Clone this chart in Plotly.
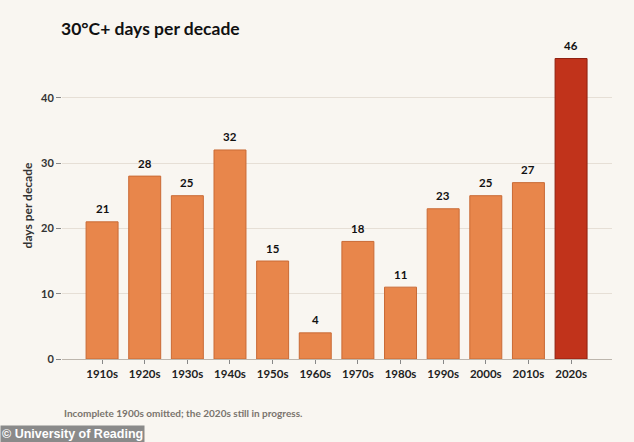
import plotly.graph_objects as go

decades = ["1910s", "1920s", "1930s", "1940s", "1950s", "1960s",
           "1970s", "1980s", "1990s", "2000s", "2010s", "2020s"]
days = [21, 28, 25, 32, 15, 4, 18, 11, 23, 25, 27, 46]
y_ticks = [0, 10, 20, 30, 40]

bar_colors = ["#e8864b"] * (len(decades) - 1) + ["#c1331b"]
line_colors = ["#c96a35"] * (len(decades) - 1) + ["#8f2010"]

bg = "#f9f6f1"
font = "Lato, 'Open Sans', sans-serif"

fig = go.Figure(go.Bar(
    x=decades, y=days,
    marker=dict(color=bar_colors, line=dict(color=line_colors, width=1)),
    hoverinfo="x+y",
))

value_labels = [
    dict(x=d, y=v, xref="x", yref="y", text="<b>%d</b>" % v, showarrow=False,
         yanchor="middle", yshift=13,
         font=dict(family=font, size=11.5, color="#111111"))
    for d, v in zip(decades, days)
]

fig.update_layout(
    width=634, height=442,
    paper_bgcolor=bg, plot_bgcolor=bg,
    margin=dict(l=62, r=22, t=52, b=83),
    bargap=0.25,
    showlegend=False,
    font=dict(family=font, color="#333333"),
    title=dict(text="<b>30°C+ days per decade</b>", x=61/634, xanchor="left",
               y=1 - 29/442, yanchor="middle",
               font=dict(family=font, size=17.5, color="#111111")),
    xaxis=dict(range=[-0.94, 11.96], showgrid=False,
               showline=True, linecolor="#bdb6ad", linewidth=1,
               ticks="outside", ticklen=4, tickcolor="#888888",
               tickfont=dict(family=font, size=11.5, color="#222222", weight="bold"),
               fixedrange=True),
    yaxis=dict(range=[0, 47], tickvals=y_ticks, showgrid=True,
               gridcolor="#e6dfd6", gridwidth=1, zeroline=False,
               ticks="outside", ticklen=5, tickcolor="#888888",
               tickfont=dict(family=font, size=11, color="#333333", weight="bold"),
               title=dict(text="days per decade", standoff=5,
                          font=dict(family=font, size=12, color="#333333", weight="bold")),
               fixedrange=True),
    annotations=value_labels + [
        dict(text="Incomplete 1900s omitted; the 2020s still in progress.",
             xref="paper", yref="paper", x=0, y=0,
             xanchor="left", yanchor="middle", showarrow=False,
             font=dict(family=font, size=10, color="#7a746d", weight="bold"),
             yshift=-(413 - 359)),
        dict(text="© University of Reading",
             xref="paper", yref="paper", x=0, y=0,
             xanchor="left", yanchor="middle", showarrow=False,
             bgcolor="#8a8a8a", borderpad=1,
             font=dict(family="Liberation Sans, Arial, sans-serif", size=12.5, color="#ffffff", weight="bold"),
             xshift=-62, yshift=-(434 - 359)),
    ],
)

fig.write_html("out.html")
